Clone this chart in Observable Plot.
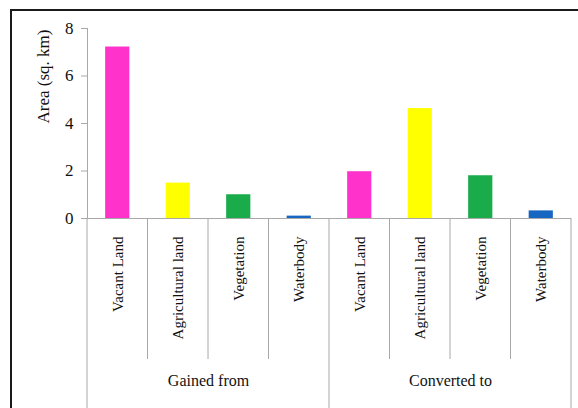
<!DOCTYPE html>
<html><head><meta charset="utf-8">
<script src="https://cdn.jsdelivr.net/npm/d3@7"></script>
<script src="https://cdn.jsdelivr.net/npm/@observablehq/plot@0.6"></script>
<style>
body{margin:0;background:#fff}
#wrap{position:relative;width:578px;height:408px;overflow:hidden}
#frame{position:absolute;left:10px;top:9px;width:600px;height:440px;border-left:2px solid #1a1a1a;border-top:2px solid #1a1a1a;box-sizing:border-box;pointer-events:none}
svg text{font-family:'Liberation Serif','Times New Roman',serif}
</style>
</head><body>
<div id="wrap"><div id="chart"></div><div id="frame"></div></div>
<script>
const groups = ["Gained from", "Converted to"];
const categories = ["Vacant Land", "Agricultural land", "Vegetation", "Waterbody"];
const gainedFrom = [7.22, 1.49, 1.0, 0.1];
const convertedTo = [1.97, 4.63, 1.8, 0.32];
const colors = ["#ff33cc", "#ffff00", "#1aab4b", "#1766c1"];
const yTicks = [0, 2, 4, 6, 8];

const rows = [];
[gainedFrom, convertedTo].forEach((vals, g) => {
  vals.forEach((v, c) => rows.push({i: g * categories.length + c, group: groups[g], category: categories[c], value: v, color: colors[c]}));
});
const n = rows.length;

function dividers(index, {x, y}, values, dims) {
  const g = d3.create("svg:g");
  const y0 = y(0);
  for (let k = 0; k <= n; k++) {
    const major = k % categories.length === 0;
    g.append("line")
      .attr("x1", x(k)).attr("x2", x(k))
      .attr("y1", y0).attr("y2", major ? dims.height : y0 + 141)
      .attr("stroke", "#a8a8a8").attr("stroke-width", 1);
  }
  return g.node();
}

const serif = "'Liberation Serif', 'Times New Roman', serif";
const chart = Plot.plot({
  width: 578,
  height: 408,
  marginLeft: 87,
  marginRight: 7,
  marginTop: 28,
  marginBottom: 190,
  style: {fontFamily: serif, background: "transparent", color: "#111"},
  x: {domain: [0, n], axis: null},
  y: {domain: [0, 8], axis: null},
  marks: [
    Plot.rectY(rows, {x1: d => d.i + 0.3, x2: d => d.i + 0.7, y: "value", fill: "color"}),
    Plot.ruleX([0], {y1: 0, y2: 8, stroke: "#a8a8a8"}),
    Plot.ruleY([0], {stroke: "#a8a8a8"}),
    Plot.axisY({ticks: yTicks, tickSize: 6, tickPadding: 8, tickFormat: d3.format("d"), fontSize: 17, fontFamily: serif, stroke: "#a8a8a8", fill: "#111", label: null}),
    dividers,
    Plot.text(rows, {x: d => d.i + 0.5, frameAnchor: "bottom", text: "category", rotate: -90, textAnchor: "end", lineAnchor: "middle", dy: 18, fontSize: 15, fontFamily: serif, fill: "#111"}),
    Plot.text(groups, {x: (d, i) => i * categories.length + categories.length / 2, frameAnchor: "bottom", text: d => d, dy: 167, fontSize: 16, fontFamily: serif, fill: "#111"}),
    Plot.text(["Area (sq. km)"], {frameAnchor: "left", text: d => d, rotate: -90, dx: -44, fontSize: 17, fontFamily: serif, fill: "#111"})
  ]
});
document.getElementById("chart").appendChild(chart);
</script>
</body></html>
